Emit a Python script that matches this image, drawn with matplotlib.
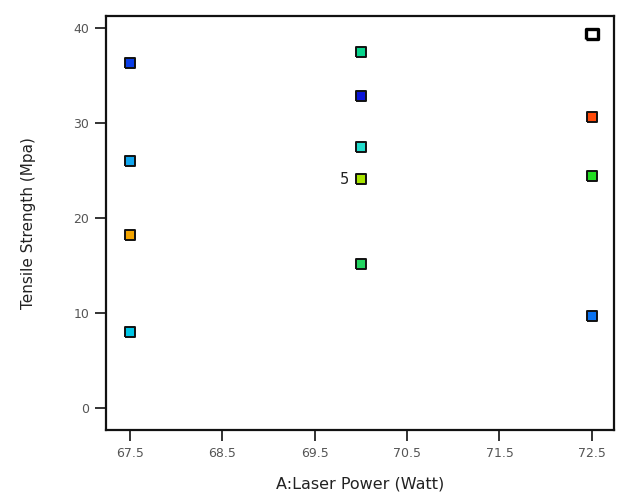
import matplotlib
matplotlib.use("Agg")
import matplotlib.pyplot as plt

# design points: laser power vs tensile strength
power = [67.5, 67.5, 67.5, 67.5, 70.0, 70.0, 70.0, 70.0, 70.0, 72.5, 72.5, 72.5]
strength = [36.4, 26.0, 18.2, 8.0, 37.5, 32.9, 27.5, 24.1, 15.2, 30.7, 24.5, 9.7]
colors = ['#0a3de6', '#12a6ee', '#f2a400', '#00c6e6', '#08d48c', '#0a14d8',
          '#22dccc', '#a8e400', '#22d460', '#ff4a0a', '#22dc22', '#0a72f0']

# highlighted point (white box) and the replicate label
hi_power, hi_strength = 72.5, 39.4
rep_power, rep_strength, rep_label = 70.0, 24.1, '5'

xticks = [67.5, 68.5, 69.5, 70.5, 71.5, 72.5]
yticks = [0, 10, 20, 30, 40]

# slightly wide box marker
box = [(-1.15, -1), (1.15, -1), (1.15, 1), (-1.15, 1), (-1.15, -1)]

fig = plt.figure(figsize=(6.24, 4.99), dpi=100)
ax = fig.add_axes([0.170, 0.138, 0.814, 0.830])

for x, y, c in zip(power, strength, colors):
    ax.plot(x, y, marker=box, ms=7.5, mfc=c, mec='#111111', mew=1.4, ls='none')
ax.plot(hi_power, hi_strength, marker=box, ms=9, mfc='white', mec='black',
        mew=2.4, ls='none')
ax.text(rep_power - 0.13, rep_strength, rep_label, ha='right', va='center',
        fontsize=10.5, color='#222222')

ax.set_xlim(67.24, 72.74)
ax.set_ylim(-2.3, 41.3)
ax.set_xticks(xticks)
ax.set_xticklabels([str(t) for t in xticks])
ax.set_yticks(yticks)

for s in ax.spines.values():
    s.set_linewidth(1.6)
    s.set_color('#111111')
ax.tick_params(direction='out', length=8, width=1.4, color='#333333',
               labelsize=9, labelcolor='#555555', pad=4)

ax.set_xlabel('A:Laser Power (Watt)', fontsize=11.5, color='#222222', labelpad=12)
ax.set_ylabel('Tensile Strength (Mpa)', fontsize=11, color='#222222', labelpad=27)

fig.savefig('out.png', dpi=100)
